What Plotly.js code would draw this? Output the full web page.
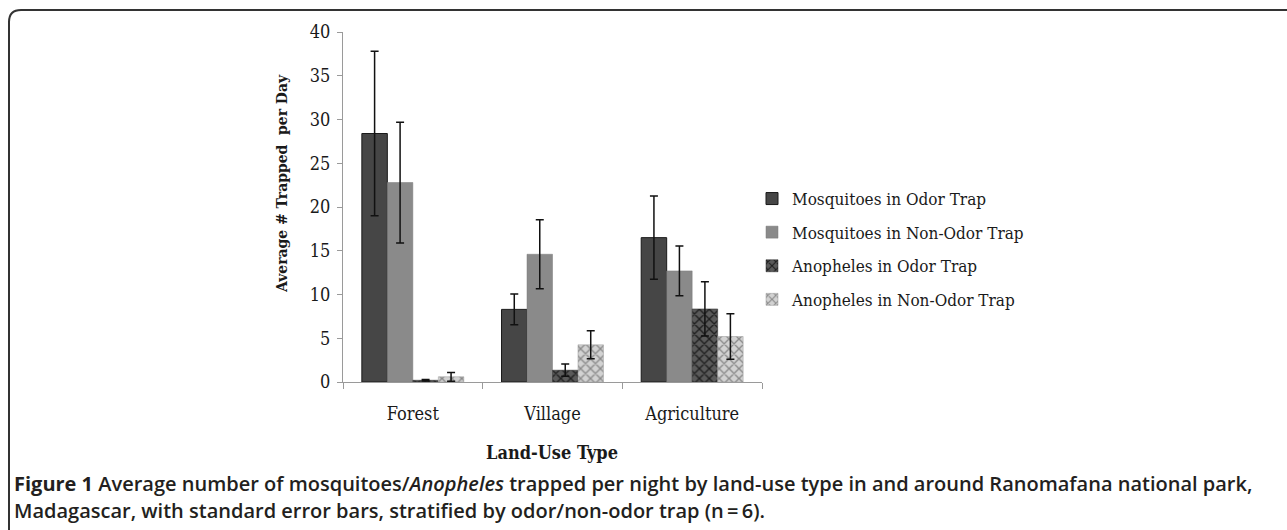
<!DOCTYPE html>
<html>
<head>
<meta charset="utf-8">
<script src="https://cdn.plot.ly/plotly-3.0.1.min.js"></script>
<style>
  html, body { margin: 0; padding: 0; background: #ffffff; }
  #chart { width: 1287px; height: 530px; }
</style>
</head>
<body>
<div id="chart"></div>
<script>
// ---- Data ----
const categories = ["Forest", "Village", "Agriculture"];
const seriesNames = [
  "Mosquitoes in Odor Trap",
  "Mosquitoes in Non-Odor Trap",
  "Anopheles in Odor Trap",
  "Anopheles in Non-Odor Trap"
];
const mosqOdor      = [28.4, 8.3, 16.5];
const mosqOdorSE    = [9.4, 1.75, 4.75];
const mosqNonOdor   = [22.8, 14.6, 12.7];
const mosqNonOdorSE = [6.9, 3.95, 2.85];
const anoOdor       = [0.2, 1.35, 8.35];
const anoOdorSE     = [0.08, 0.7, 3.1];
const anoNonOdor    = [0.6, 4.25, 5.2];
const anoNonOdorSE  = [0.5, 1.6, 2.6];
const yTicks = [0, 5, 10, 15, 20, 25, 30, 35, 40];

const captionLine1 = "<b>Figure 1</b> Average number of mosquitoes/<i>Anopheles</i> trapped per night by land-use type in and around Ranomafana national park,";
const captionLine2 = "Madagascar, with standard error bars, stratified by odor/non-odor trap (n\u2009=\u20096).";

// ---- Layout geometry ----
const W = 1287, H = 530;
const M = { l: 343, r: 525, t: 32, b: 148 };
const PW = W - M.l - M.r, PH = H - M.t - M.b;
const px = x => (x - M.l) / PW;            // pixel x -> paper x
const py = y => (H - M.b - y) / PH;        // pixel y -> paper y

const SERIF = "'DejaVu Serif Condensed', 'DejaVu Serif', 'Liberation Serif', serif";
const SANS = "'Open Sans', 'Noto Sans', 'DejaVu Sans', sans-serif";

function errObj(arr) {
  return { type: "data", array: arr, visible: true, color: "#111111", thickness: 1.5, width: 4 };
}

const traces = [
  {
    type: "bar", x: categories, y: mosqOdor, name: seriesNames[0], legendgroup: "a",
    marker: { color: "#464646", line: { color: "#1a1a1a", width: 1 } },
    error_y: errObj(mosqOdorSE)
  },
  {
    type: "bar", x: categories, y: mosqNonOdor, name: seriesNames[1], legendgroup: "b",
    marker: { color: "#8a8a8a", line: { color: "#7a7a7a", width: 0.5 } },
    error_y: errObj(mosqNonOdorSE)
  },
  {
    type: "bar", x: categories, y: anoOdor, name: seriesNames[2], legendgroup: "c",
    marker: { color: "#3a3a3a", line: { color: "#2a2a2a", width: 0.5 },
      pattern: { shape: "x", bgcolor: "#5a5a5a", fgcolor: "#1e1e1e", size: 7, solidity: 0.35 } },
    error_y: errObj(anoOdorSE)
  },
  {
    type: "bar", x: categories, y: anoNonOdor, name: seriesNames[3], legendgroup: "d",
    marker: { color: "#bdbdbd", line: { color: "#9a9a9a", width: 0.5 },
      pattern: { shape: "x", bgcolor: "#d2d2d2", fgcolor: "#8a8a8a", size: 7, solidity: 0.35 } },
    error_y: errObj(anoNonOdorSE)
  }
];

const framePath = "M " + px(9) + "," + py(1400) +
  " L " + px(9) + "," + py(22) +
  " Q " + px(9) + "," + py(10) + " " + px(21) + "," + py(10) +
  " L " + px(1400) + "," + py(10);

const layout = {
  width: W, height: H,
  margin: M,
  paper_bgcolor: "#ffffff",
  plot_bgcolor: "#ffffff",
  barmode: "group",
  bargap: 0.27,
  bargroupgap: 0,
  showlegend: true,
  font: { family: SERIF, color: "#1a1a1a", size: 17 },
  xaxis: {
    type: "category",
    tickson: "boundaries",
    ticks: "outside", ticklen: 6, tickcolor: "#9a9a9a", tickwidth: 1,
    showline: true, linecolor: "#9a9a9a", linewidth: 1,
    showgrid: false, zeroline: false,
    ticklabelstandoff: 15,
    tickfont: { family: SERIF, size: 18, color: "#1a1a1a" },
    fixedrange: true
  },
  yaxis: {
    range: [0, 40],
    tickvals: yTicks,
    ticks: "outside", ticklen: 5, tickcolor: "#9a9a9a", tickwidth: 1,
    showline: true, linecolor: "#9a9a9a", linewidth: 1,
    showgrid: false, zeroline: false,
    ticklabelstandoff: 3,
    tickfont: { family: SERIF, size: 18, color: "#1a1a1a" },
    fixedrange: true
  },
  legend: {
    x: px(752), xanchor: "left",
    y: py(181), yanchor: "top",
    traceorder: "grouped",
    tracegroupgap: 8.5,
    font: { family: SERIF, size: 17, color: "#1a1a1a" },
    bgcolor: "rgba(0,0,0,0)",
    itemclick: false, itemdoubleclick: false
  },
  annotations: [
    {
      text: "<b>Average # Trapped  per Day</b>", textangle: -90,
      xref: "paper", yref: "paper", x: px(281), y: py(184),
      xanchor: "center", yanchor: "middle", showarrow: false,
      font: { family: SERIF, size: 15.5, color: "#1a1a1a" }
    },
    {
      text: "<b>Land-Use Type</b>",
      xref: "paper", yref: "paper", x: px(552), y: py(452),
      xanchor: "center", yanchor: "middle", showarrow: false,
      font: { family: SERIF, size: 18, color: "#1a1a1a" }
    },
    {
      text: captionLine1,
      xref: "paper", yref: "paper", x: px(12), y: py(483),
      xanchor: "left", yanchor: "middle", showarrow: false,
      font: { family: SANS, size: 20, color: "#231f20", weight: 600 }
    },
    {
      text: captionLine2,
      xref: "paper", yref: "paper", x: px(12), y: py(510),
      xanchor: "left", yanchor: "middle", showarrow: false,
      font: { family: SANS, size: 20, color: "#231f20", weight: 600 }
    }
  ],
  shapes: [
    {
      type: "path", xref: "paper", yref: "paper", path: framePath,
      line: { color: "#333333", width: 2 }, layer: "above"
    }
  ]
};

Plotly.newPlot("chart", traces, layout, { displayModeBar: false, staticPlot: true });
</script>
</body>
</html>
